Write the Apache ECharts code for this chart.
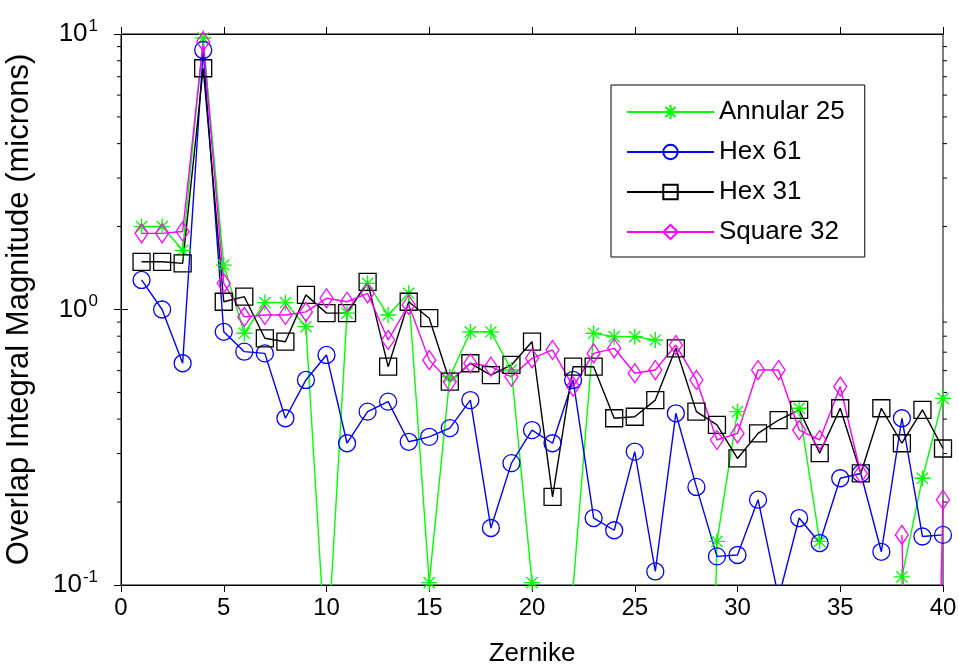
<!DOCTYPE html>
<html><head><meta charset="utf-8">
<script src="https://cdn.jsdelivr.net/npm/echarts@6/dist/echarts.min.js"></script>
<style>html,body{margin:0;padding:0;background:#fff}#c{width:959px;height:666px}</style>
</head><body><div id="c"></div>
<script>
// Zernike index
const zernike = [1,2,3,4,5,6,7,8,9,10,11,12,13,14,15,16,17,18,19,20,21,22,23,24,25,26,27,28,29,30,31,32,33,34,35,36,37,38,39,40];
// values (microns); null = no value (gap), tiny values fall below the plotted range
const annular25 = [2.0,2.0,1.64,9.67,1.45,0.82,1.06,1.06,0.866,0.05,0.97,1.245,0.955,1.145,0.102,0.57,0.83,0.83,0.603,0.102,0.0001,0.098,0.82,0.797,0.797,0.775,null,0.0001,0.144,0.426,null,null,0.438,0.144,null,null,null,0.107,0.244,0.476];
const hex61 = [1.28,1.0,0.638,8.75,0.83,0.703,0.693,0.403,0.555,0.684,0.327,0.426,0.463,0.331,0.345,0.371,0.469,0.161,0.277,0.365,0.327,0.555,0.175,0.158,0.305,0.112,0.42,0.227,0.127,0.1285,0.204,0.09,0.175,0.142,0.244,0.254,0.132,0.403,0.15,0.152];
const hex31 = [1.49,1.49,1.47,7.51,1.067,1.113,0.786,0.764,1.13,0.97,0.97,1.26,0.62,1.067,0.93,0.547,0.638,0.578,0.629,0.764,0.209,0.62,0.62,0.403,0.408,0.469,0.723,0.426,0.381,0.288,0.355,0.397,0.432,0.301,0.438,0.254,0.438,0.327,0.432,0.313];
const square32 = [1.89,1.89,1.92,9.38,1.245,0.94,0.955,0.955,0.98,1.098,1.067,1.145,0.775,1.04,0.655,0.547,0.638,0.62,0.57,0.665,0.713,0.525,0.693,0.723,0.587,0.603,0.743,0.555,0.336,0.355,0.603,0.603,0.365,0.336,0.525,0.254,null,0.152,0.0001,0.204];
const seriesNames = ['Annular 25','Hex 61','Hex 31','Square 32'];
const xTickValues = [0,5,10,15,20,25,30,35,40];
const yTickValues = [0.1,1,10];

const FONT = 'Liberation Sans, Arial, Helvetica, sans-serif';
const asterisk = 'path://M0,-10L0,10M-10,0L10,0M-7,-7L7,7M-7,7L7,-7';

function pairs(arr){ return zernike.map((z,i)=>[z, arr[i]]); }

function mkSeries(name, data, color, symbol, size){
  return {
    name, type:'line', data: pairs(data), clip:true,
    symbol, symbolSize:size, showAllSymbol:true,
    lineStyle:{color, width:1.4},
    itemStyle:{color:'rgba(255,255,255,0)', borderColor:color, borderWidth:1.3},
    emphasis:{disabled:true}
  };
}

const chart = echarts.init(document.getElementById('c'), null, {renderer:'canvas'});
const axisCommon = {
  axisLine:{show:true, lineStyle:{color:'#000', width:1}},
  splitLine:{show:false}
};
chart.setOption({
  animation:false,
  backgroundColor:'#fff',
  textStyle:{fontFamily:FONT},
  grid:{left:121, right:16, top:34, bottom:81, containLabel:false, outerBoundsMode:'none',
    show:true, borderColor:'#000', borderWidth:1, backgroundColor:'#fff'},
  legend:{
    orient:'vertical', left:611, top:85,
    padding:[12,20,10,15], itemGap:10,
    itemWidth:87, itemHeight:18,
    borderColor:'#000', borderWidth:1, backgroundColor:'#fff',
    textStyle:{fontSize:26, color:'#000', fontFamily:FONT, lineHeight:30},
    data: seriesNames
  },
  xAxis:[
    Object.assign({type:'value', min:0, max:40, interval:5, position:'bottom',
      name:'Zernike', nameLocation:'middle', nameGap:56,
      nameTextStyle:{fontSize:26, color:'#000', fontFamily:FONT},
      axisTick:{show:true, inside:false, length:7, lineStyle:{color:'#000'}},
      axisLabel:{fontSize:24, color:'#000', margin:11, fontFamily:FONT,
        customValues: xTickValues}}, axisCommon),
    Object.assign({type:'value', min:0, max:40, interval:5, position:'top',
      axisTick:{show:true, inside:false, length:7, lineStyle:{color:'#000'}},
      axisLabel:{show:false}}, axisCommon)
  ],
  yAxis:[
    Object.assign({type:'log', logBase:10, min:0.1, max:10, position:'left',
      name:'Overlap Integral Magnitude (microns)', nameLocation:'middle', nameGap:86, nameRotate:90,
      nameTextStyle:{fontSize:31, color:'#000', fontFamily:FONT},
      axisTick:{show:true, inside:false, length:7, lineStyle:{color:'#000'}},
      axisLabel:{margin:23, color:'#000', fontFamily:FONT,
        formatter:function(v){ const e = Math.round(Math.log10(v)); return '{b|10}{s|' + e + '}'; },
        rich:{
          b:{fontSize:26, lineHeight:26, fontFamily:FONT, color:'#000'},
          s:{fontSize:17, lineHeight:17, padding:[0,0,16,1], fontFamily:FONT, color:'#000'}
        }}}, axisCommon),
    Object.assign({type:'log', logBase:10, min:0.1, max:10, position:'right',
      axisTick:{show:true, inside:false, length:7, lineStyle:{color:'#000'}},
      axisLabel:{show:false}}, axisCommon)
  ],
  series:[
    mkSeries(seriesNames[0], annular25, '#00ff00', asterisk, 16),
    mkSeries(seriesNames[1], hex61, '#0000ff', 'circle', 17),
    mkSeries(seriesNames[2], hex31, '#000000', 'rect', 17),
    mkSeries(seriesNames[3], square32, '#ff00ff', 'diamond', [13,19])
  ]
});

// minor log ticks, positioned through the y axis scale
function addMinorTicks(){
  const x0 = chart.convertToPixel({xAxisIndex:0}, 0);
  const x1 = chart.convertToPixel({xAxisIndex:0}, 40);
  const els = [];
  [0.1, 1].forEach(d => {
    for (let k = 2; k <= 9; k++) {
      const y = chart.convertToPixel({yAxisIndex:0}, k*d);
      els.push({type:'line', silent:true, shape:{x1:x0-4, y1:y, x2:x0, y2:y}, style:{stroke:'#000', lineWidth:1}});
      els.push({type:'line', silent:true, shape:{x1:x1, y1:y, x2:x1+4, y2:y}, style:{stroke:'#000', lineWidth:1}});
    }
  });
  chart.setOption({graphic:{elements:els}});
}
addMinorTicks();
</script>
</body></html>
